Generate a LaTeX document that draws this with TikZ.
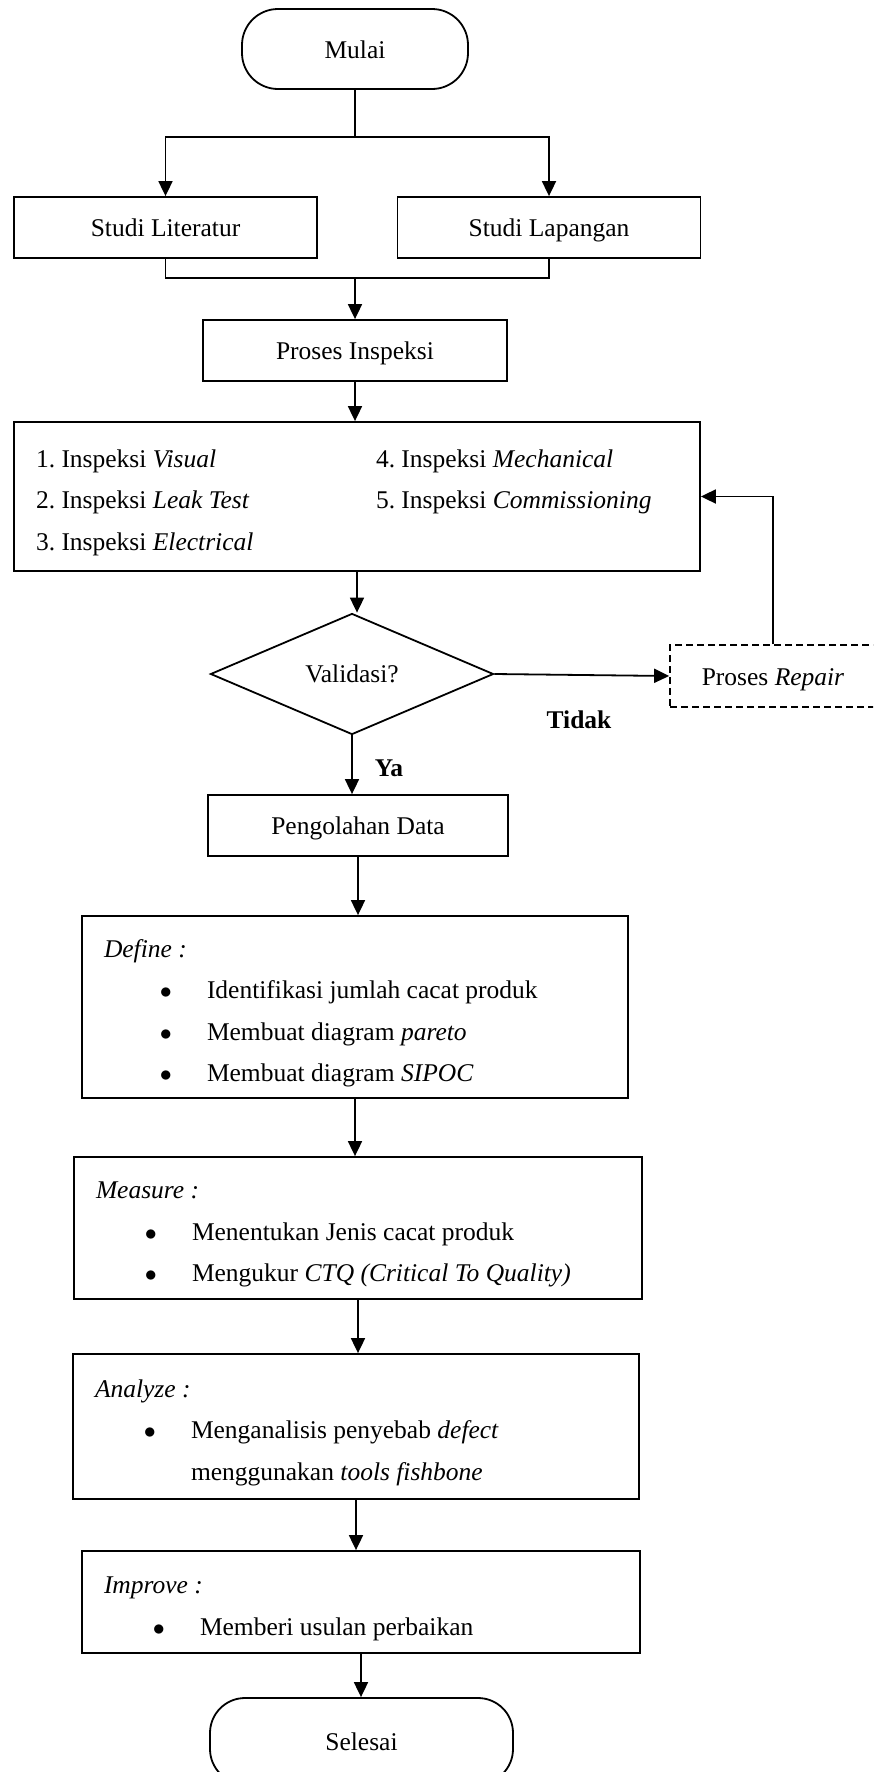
\documentclass[tikz,border=0pt]{standalone}
\usepackage{fontspec}
\setmainfont{Liberation Serif}
\usetikzlibrary{positioning}
\usetikzlibrary{shapes.geometric}
\usetikzlibrary{arrows.meta}
\newcommand{\butir}[2][24.5pt]{\hspace*{#1}\makebox[23.5pt][l]{$\bullet$}#2}
\tikzset{
  garis/.style={line width=0.9pt},
  panah/.style={line width=0.9pt, -{Triangle[length=7.5pt,width=7pt]}},
  kotak/.style={draw, line width=0.9pt, inner sep=0pt, text height=9pt, text depth=0pt,
    minimum width=151.5pt, minimum height=30.5pt},
  ujung/.style={kotak, rounded corners=18pt, minimum width=113pt, minimum height=40pt},
  putusan/.style={draw, line width=0.9pt, diamond, inner sep=0pt, minimum width=141.5pt, minimum height=60.5pt},
  isian/.style={draw, line width=0.9pt, inner xsep=11pt, inner ysep=0pt, align=left,
    execute at begin node={\spaceskip=0pt\xspaceskip=0pt\frenchspacing\rule{0pt}{15.4pt}},
    execute at end node={\rule[-3pt]{0pt}{3pt}}},
}

\begin{document}
\begin{tikzpicture}[x=0.5pt, y=-0.5pt, font=\fontsize{12.75pt}{20.75pt}\selectfont]
\useasboundingbox (0,0) rectangle (873,1772);
\clip (0,0) rectangle (873,1772);
% persiapan
\node[ujung] (mulai) at (355,49) {Mulai};
\node[kotak] (literatur) at (165.5,227.5) {Studi Literatur};
\node[kotak] (lapangan) at (549,227.5) {Studi Lapangan};
\node[kotak, minimum width=152pt] (inspeksi) at (355,350.5) {Proses Inspeksi};
\node[isian, text width=321pt, minimum height=74.5pt] (jenis) at (357,496.5)
  {\makebox[170pt][l]{1. Inspeksi \textit{Visual}}4. Inspeksi \textit{Mechanical}\\
   \makebox[170pt][l]{2. Inspeksi \textit{Leak Test}}5. Inspeksi \textit{Commissioning}\\
   3. Inspeksi \textit{Electrical}};
\node[putusan] (validasi) at (352,674) {Validasi?};
\node[kotak, dash pattern=on 3.5pt off 2pt, minimum width=103pt, minimum height=31pt] (repair) at (773,676) {Proses \textit{Repair}};
\node (tidak) at (579,720) {\textbf{Tidak}};
\node (ya) at (389,768) {\textbf{Ya}};
% pengolahan data
\node[kotak, minimum width=150pt] (olah) at (358,825.5) {Pengolahan Data};
\node[isian, text width=251pt, minimum height=91pt] (define) at (355,1007)
  {\textit{Define :}\\
   \butir[28pt]{Identifikasi jumlah cacat produk}\\
   \butir[28pt]{Membuat diagram \textit{pareto}}\\
   \butir[28pt]{Membuat diagram \textit{SIPOC}}};
\node[isian, text width=262pt, minimum height=71pt] (measure) at (358,1228)
  {\textit{Measure :}\\
   \butir{Menentukan Jenis cacat produk}\\
   \butir{Mengukur \textit{CTQ (Critical To Quality)}}};
\node[isian, text width=261pt, minimum height=72.5pt] (analyze) at (356,1426.5)
  {\textit{Analyze :}\\
   \butir{Menganalisis penyebab \textit{defect}}\\
   \hspace*{48pt}menggunakan \textit{tools fishbone}};
\node[isian, text width=257pt, minimum height=51pt] (improve) at (361,1602)
  {\textit{Improve :}\\
   \butir{Memberi usulan perbaikan}};
\node[ujung, minimum width=151.5pt, minimum height=43pt, rounded corners=17.5pt] (selesai) at (361.5,1741) {Selesai};
% garis
\coordinate (cabang) at (355,137);
\coordinate (gabung) at (355,278);
\draw[garis] (mulai) -- (cabang);
\draw[panah] (cabang) -| (literatur);
\draw[panah] (cabang) -| (lapangan);
\draw[garis] (literatur) |- (gabung) -| (lapangan);
\draw[panah] (gabung) -- (inspeksi);
\draw[panah] (inspeksi.south) -- (inspeksi.south |- jenis.north);
\draw[panah] (jenis.south) -- (jenis.south |- validasi.north);
\draw[panah] (validasi.east) -- (repair.west);
\draw[panah] (repair.north) |- (jenis.east);
\draw[panah] (validasi.south) -- (validasi.south |- olah.north);
\draw[panah] (olah.south) -- (olah.south |- define.north);
\draw[panah] (define.south) -- (define.south |- measure.north);
\draw[panah] (measure.south) -- (measure.south |- analyze.north);
\draw[panah] (analyze.south) -- (analyze.south |- improve.north);
\draw[panah] (improve.south) -- (improve.south |- selesai.north);
\end{tikzpicture}
\end{document}
